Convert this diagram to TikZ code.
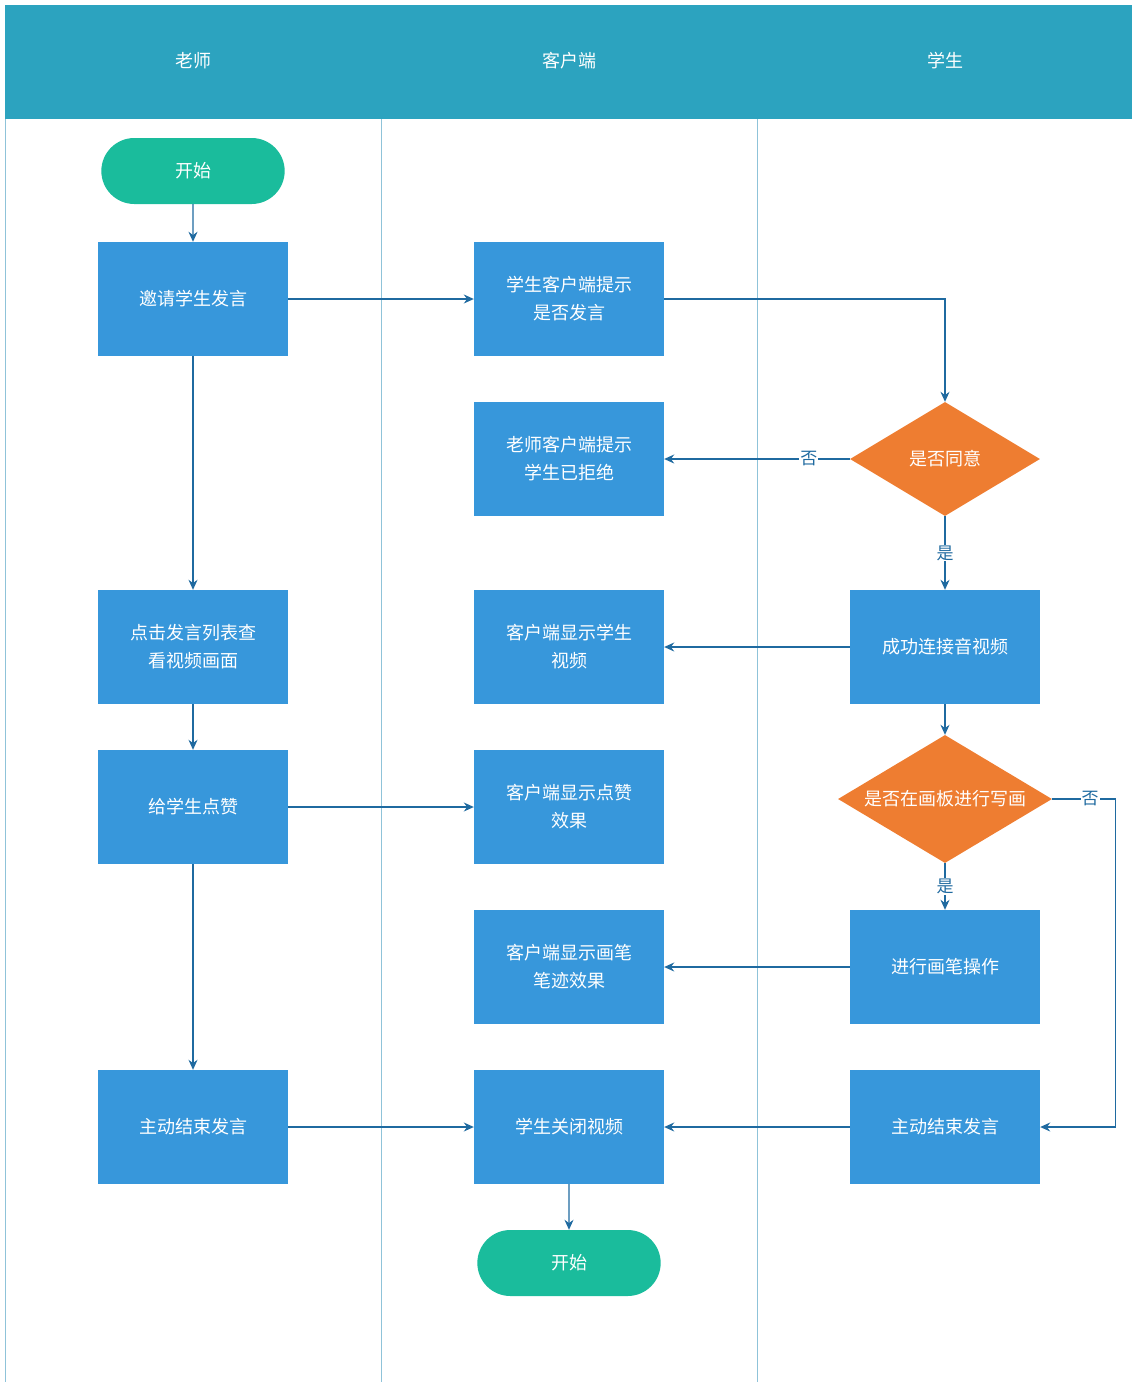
\documentclass[tikz,border=0pt]{standalone}
\usepackage{fontspec}
\setmainfont{Noto Sans CJK SC}
\usetikzlibrary{positioning, calc, shapes.geometric, shapes.misc, arrows.meta}
\definecolor{headblue}{HTML}{2CA3BF}
\definecolor{boxblue}{HTML}{3797DB}
\definecolor{decorange}{HTML}{EE7D31}
\definecolor{termgreen}{HTML}{1ABC9C}
\definecolor{linkblue}{HTML}{1F6AA0}
\definecolor{lanegray}{HTML}{8FC3D9}
\tikzstyle{Proc} = [rectangle, fill=boxblue, text=white, minimum width=190pt,
  minimum height=114pt, align=center, font=\fontsize{18}{28}\selectfont]
\tikzstyle{Term} = [rounded rectangle, fill=termgreen, text=white, minimum width=190pt,
  minimum height=66pt, font=\fontsize{18}{28}\selectfont]
\tikzstyle{Dec} = [diamond, fill=decorange, text=white, inner sep=0pt, aspect=1.67,
  font=\fontsize{18}{28}\selectfont]
\tikzstyle{Arrow} = [linkblue, line width=1.2pt, -{Stealth[length=10pt,width=9pt]}]
\tikzstyle{Lbl} = [fill=white, text=linkblue, inner sep=1pt, font=\fontsize{17}{20}\selectfont]

\begin{document}
\begin{tikzpicture}[x=1pt, y=-1pt]
    \useasboundingbox (0,0) rectangle (1132,1382);
    % swimlanes
    \fill [headblue] (5,5) rectangle (1132,119);
    \foreach \x in {5, 381, 757} \draw [lanegray, line width=1pt] (\x,119) -- (\x,1382);
    \node [text=white, font=\fontsize{18}{22}\selectfont] (h1) at (193,61) {老师};
    \node [text=white, font=\fontsize{18}{22}\selectfont] (h2) at (569,61) {客户端};
    \node [text=white, font=\fontsize{18}{22}\selectfont] (h3) at (945,61) {学生};
    % teacher
    \node [Term] (start) at (193,171) {开始};
    \node [Proc] (invite) at (193,299) {邀请学生发言};
    \node [Proc] (list) at (193,647) {点击发言列表查\\看视频画面};
    \node [Proc] (like) at (193,807) {给学生点赞};
    \node [Proc] (tend) at (193,1127) {主动结束发言};
    % client
    \node [Proc] (ask) at (569,299) {学生客户端提示\\是否发言};
    \node [Proc] (refuse) at (569,459) {老师客户端提示\\学生已拒绝};
    \node [Proc] (video) at (569,647) {客户端显示学生\\视频};
    \node [Proc] (likefx) at (569,807) {客户端显示点赞\\效果};
    \node [Proc] (pen) at (569,967) {客户端显示画笔\\笔迹效果};
    \node [Proc] (close) at (569,1127) {学生关闭视频};
    \node [Term] (stop) at (569,1263) {开始};
    % student
    \node [Dec, minimum width=190pt, minimum height=114pt] (agree) at (945,459) {是否同意};
    \node [Proc] (connect) at (945,647) {成功连接音视频};
    \node [Dec, minimum width=214pt, minimum height=128pt] (board) at (945,799) {是否在画板进行写画};
    \node [Proc] (draw) at (945,967) {进行画笔操作};
    \node [Proc] (send) at (945,1127) {主动结束发言};
    % links
    \draw [Arrow] (start) -- (invite);
    \draw [Arrow] (invite) -- (ask);
    \draw [Arrow] (ask.east) -| (agree.north);
    \draw [Arrow] (agree) -- node [Lbl, pos=0.22] {否} (refuse);
    \draw [Arrow] (agree) -- node [Lbl] {是} (connect);
    \draw [Arrow] (invite) -- (list);
    \draw [Arrow] (connect) -- (video);
    \draw [Arrow] (list) -- (like);
    \draw [Arrow] (like) -- (likefx);
    \draw [Arrow] (connect) -- (board);
    \draw [Arrow] (board) -- node [Lbl] {是} (draw);
    \draw [Arrow] (board.east) -- node [Lbl, pos=0.6] {否} ($(board.east)+(63,0)$)
        |- (send.east);
    \draw [Arrow] (draw) -- (pen);
    \draw [Arrow] (like) -- (tend);
    \draw [Arrow] (tend) -- (close);
    \draw [Arrow] (send) -- (close);
    \draw [Arrow] (close) -- (stop);
\end{tikzpicture}
\end{document}
